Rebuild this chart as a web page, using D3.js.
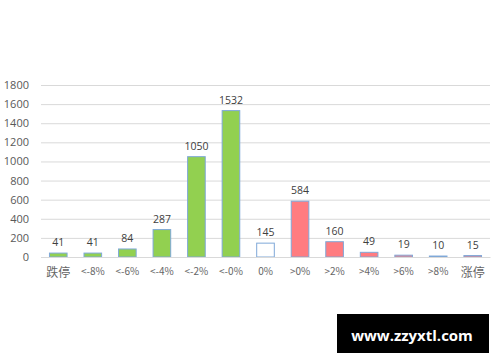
<!DOCTYPE html>
<html>
<head>
<meta charset="utf-8">
<script src="https://cdn.jsdelivr.net/npm/d3@7"></script>
<style>
  body { margin: 0; background: #fff; }
  svg { display: block; font-family: "Noto Sans CJK SC", "Open Sans", sans-serif; }
</style>
</head>
<body>
<svg id="chart" width="500" height="362"></svg>
<script>
const categories = ['跌停', '<-8%', '<-6%', '<-4%', '<-2%', '<-0%', '0%', '>0%', '>2%', '>4%', '>6%', '>8%', '涨停'];
const counts = [41, 41, 84, 287, 1050, 1532, 145, 584, 160, 49, 19, 10, 15];
const yTicks = [0, 200, 400, 600, 800, 1000, 1200, 1400, 1600, 1800];

const svg = d3.select('#chart');
const margin = { top: 85, right: 10, bottom: 105, left: 41 };
const width = 500 - margin.left - margin.right;
const height = 362 - margin.top - margin.bottom;

const g = svg.append('g').attr('transform', `translate(${margin.left},${margin.top})`);

const x = d3.scaleBand().domain(categories).range([0, width]).paddingInner(0.49).paddingOuter(0.245);
const y = d3.scaleLinear().domain([0, 1800]).range([height, 0]);

// gridlines + y labels
const yAxis = g.append('g')
  .call(d3.axisLeft(y).tickValues(yTicks).tickSize(-width).tickFormat(d3.format('d')));
yAxis.select('.domain').remove();
yAxis.selectAll('line').attr('stroke', '#d9d9d9');
yAxis.selectAll('text')
  .attr('x', -12)
  .attr('fill', '#595959')
  .style('font-size', '11px')
  .style('font-family', 'Open Sans, sans-serif');

// color by sign of move
const fillFor = (c, i) => i < 6 ? '#92d050' : (i === 6 ? '#ffffff' : '#ff7c80');

g.selectAll('rect.bar')
  .data(counts)
  .enter()
  .append('rect')
  .attr('class', 'bar')
  .attr('x', (d, i) => x(categories[i]))
  .attr('y', d => y(d))
  .attr('width', x.bandwidth())
  .attr('height', d => height - y(d))
  .attr('fill', fillFor)
  .attr('stroke', '#7fa8d8')
  .attr('stroke-width', 1);

// value labels
g.selectAll('text.val')
  .data(counts)
  .enter()
  .append('text')
  .attr('class', 'val')
  .attr('x', (d, i) => x(categories[i]) + x.bandwidth() / 2)
  .attr('y', d => y(d) - 7)
  .attr('text-anchor', 'middle')
  .attr('fill', '#404040')
  .style('font-size', '10.5px')
  .style('font-family', 'Open Sans, sans-serif')
  .text(d => d);

// x labels
const xAxis = g.append('g')
  .attr('transform', `translate(0,${height})`)
  .call(d3.axisBottom(x).tickSize(0));
xAxis.select('.domain').attr('stroke', '#d9d9d9');
xAxis.selectAll('text')
  .attr('dy', '1.45em')
  .attr('fill', '#666')
  .style('font-size', d => /停/.test(d) ? '12px' : '10px')
  .style('font-family', '"Noto Sans CJK SC", "Open Sans", sans-serif');

// watermark box
svg.append('rect')
  .attr('x', 337).attr('y', 314)
  .attr('width', 152).attr('height', 39)
  .attr('fill', '#000');
svg.append('text')
  .attr('x', 412).attr('y', 341)
  .attr('text-anchor', 'middle')
  .attr('fill', '#fff')
  .style('font-size', '15px')
  .style('font-weight', 'bold')
  .style('font-family', 'Open Sans, sans-serif')
  .text('www.zzyxtl.com');
</script>
</body>
</html>
